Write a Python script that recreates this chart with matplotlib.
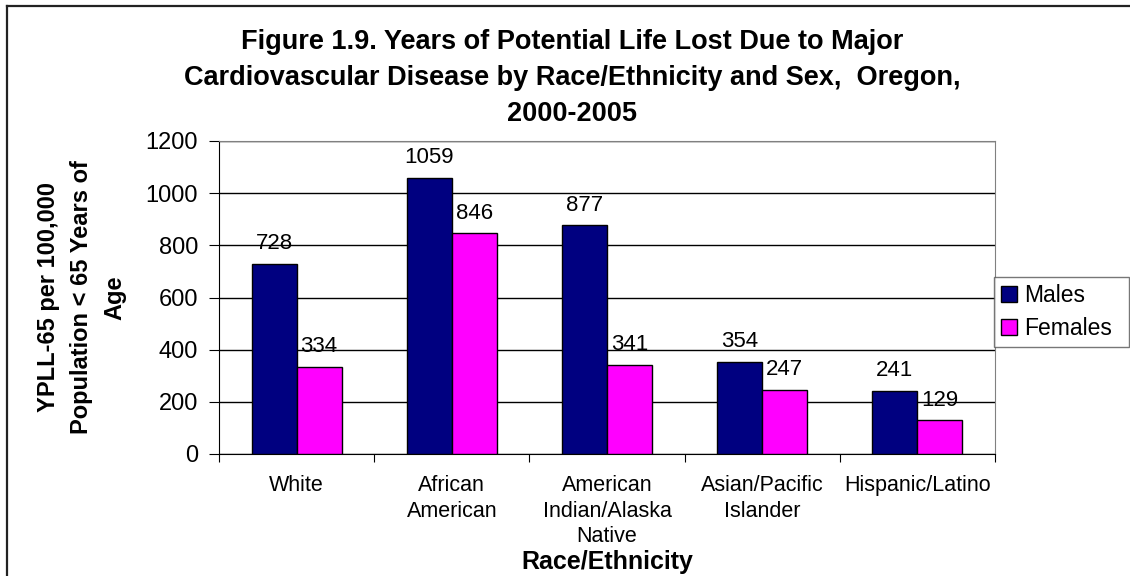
import matplotlib.pyplot as plt
import numpy as np
from matplotlib.lines import Line2D

plt.rcParams['font.family'] = ['Liberation Sans', 'DejaVu Sans']

categories = ['White', 'African\nAmerican', 'American\nIndian/Alaska\nNative',
              'Asian/Pacific\nIslander', 'Hispanic/Latino']
males = [728, 1059, 877, 354, 241]
females = [334, 846, 341, 247, 129]

W, H = 1130, 576
fig = plt.figure(figsize=(W / 100, H / 100), dpi=100)

# outer frame: only top and left edges show (picture is cropped)
fig.add_artist(Line2D([7 / W, 1], [1 - 6 / H, 1 - 6 / H], transform=fig.transFigure,
                      color='#222222', linewidth=1.6))
fig.add_artist(Line2D([7 / W, 7 / W], [0, 1 - 6 / H], transform=fig.transFigure,
                      color='#222222', linewidth=1.6))

ax = fig.add_axes([219 / W, 1 - 454 / H, 776 / W, 313 / H])

x = np.arange(len(categories))
w = 0.29
b1 = ax.bar(x - w/2, males, w, color='#000080', edgecolor='black', linewidth=1, label='Males', zorder=3)
b2 = ax.bar(x + w/2, females, w, color='#FF00FF', edgecolor='black', linewidth=1, label='Females', zorder=3)

for bars, vals in ((b1, males), (b2, females)):
    for r, v in zip(bars, vals):
        ax.annotate(str(v), (r.get_x() + r.get_width()/2, v), xytext=(0, 7),
                    textcoords='offset points', ha='center', va='bottom',
                    fontsize=16, zorder=4)

ax.set_xlim(-0.5, len(categories) - 0.5)
ax.set_ylim(0, 1200)
ax.set_yticks(range(0, 1201, 200))
ax.yaxis.grid(True, color='black', linewidth=1, zorder=0)
ax.set_xticks(np.arange(-0.5, len(categories), 1))
ax.set_xticklabels([])
ax.set_xticks(x, minor=True)
ax.set_xticklabels(categories, minor=True, fontsize=15.5, linespacing=1.3)
ax.tick_params(axis='x', which='minor', length=0, pad=15)
ax.tick_params(axis='x', which='major', length=6, color='black')
ax.tick_params(axis='y', labelsize=17, length=7, color='black', pad=8)
ax.spines['top'].set_color('gray')
ax.spines['right'].set_color('gray')
ax.spines['left'].set_color('black')
ax.spines['bottom'].set_color('black')

ax.set_ylabel('YPLL-65 per 100,000\nPopulation < 65 Years of\nAge', fontsize=17,
              fontweight='bold', labelpad=14, linespacing=1.55)
ax.set_xlabel('Race/Ethnicity', fontsize=18, fontweight='bold', labelpad=2)

fig.text(572 / W, 0.949, 'Figure 1.9. Years of Potential Life Lost Due to Major\n'
         'Cardiovascular Disease by Race/Ethnicity and Sex,  Oregon,\n2000-2005',
         ha='center', va='top', fontsize=19.5, fontweight='bold', linespacing=1.5)

fig.legend(loc='lower left', bbox_to_anchor=(994 / W, 1 - 347 / H, 135 / W, 67 / H),
           mode='expand', fontsize=16.5, frameon=True, fancybox=False,
           edgecolor='#555555', handlelength=0.7, handleheight=0.7,
           handletextpad=0.3, borderpad=0.3, labelspacing=0.45, borderaxespad=0)

fig.savefig('out.png', dpi=100)
